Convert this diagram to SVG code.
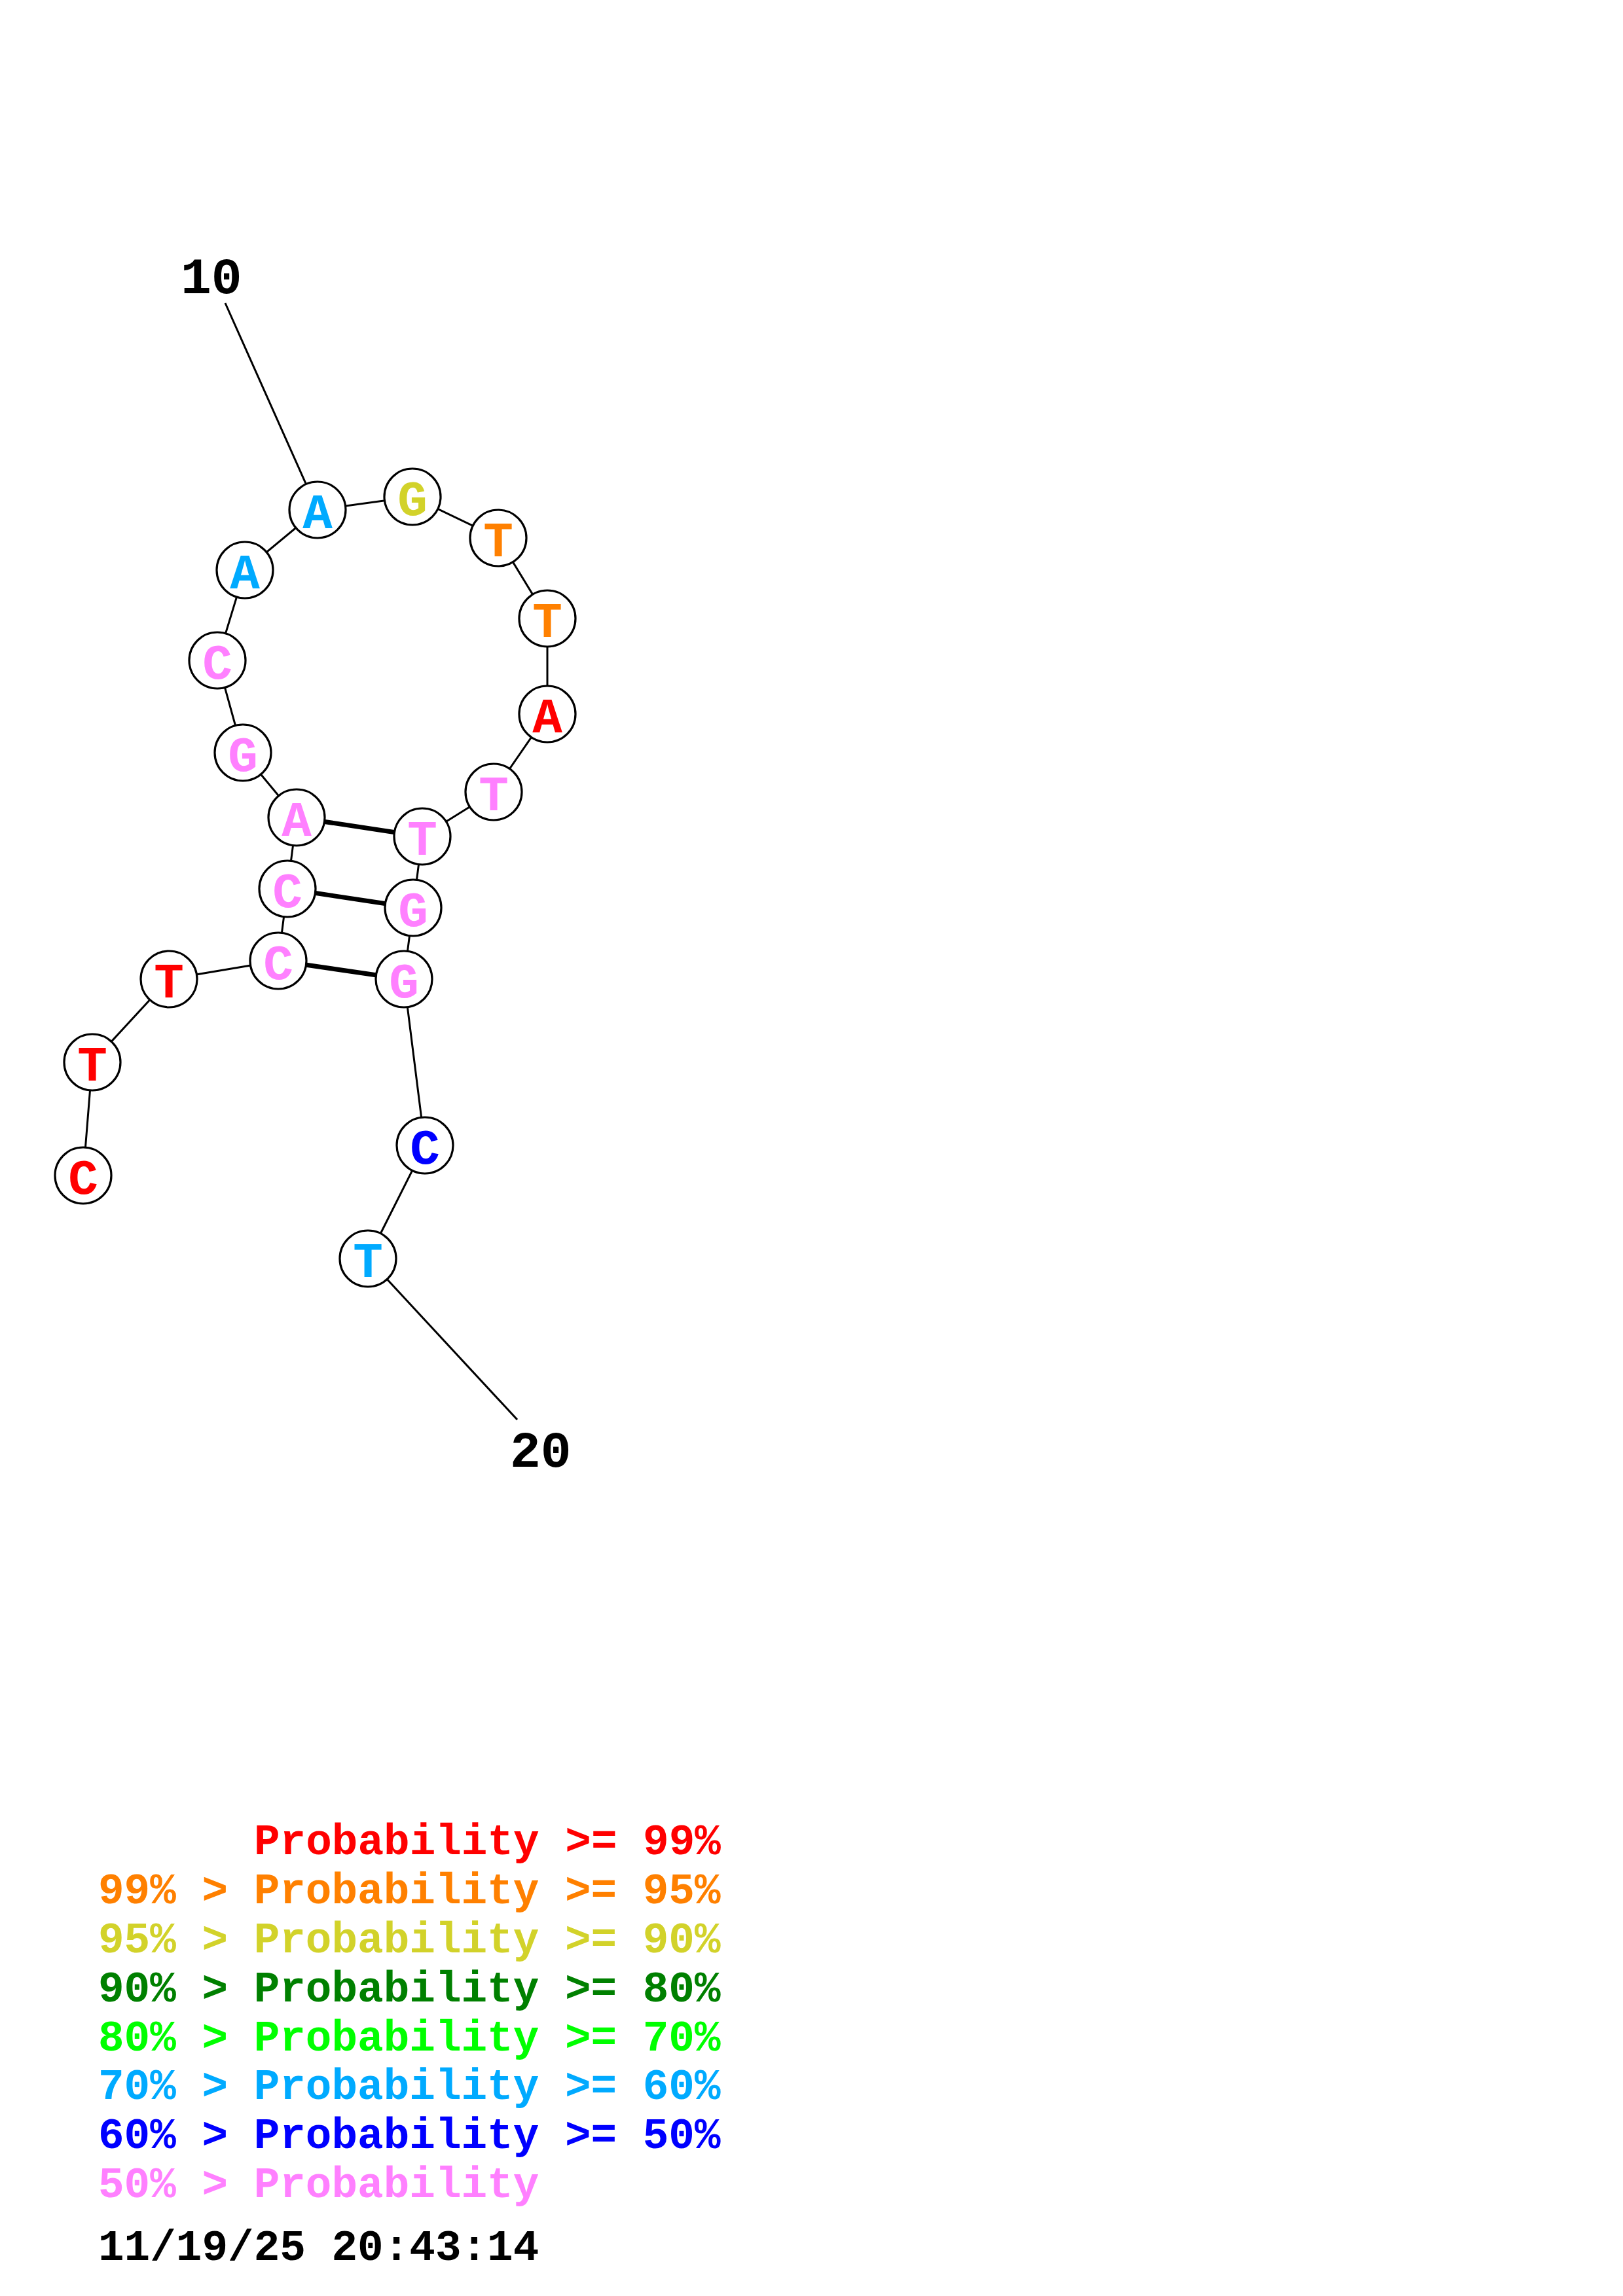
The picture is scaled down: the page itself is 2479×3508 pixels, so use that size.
<svg xmlns="http://www.w3.org/2000/svg" width="2479" height="3508" viewBox="0 0 2479 3508">
<style>
.bb{stroke:#000;stroke-width:3;fill:none}
.pr{stroke:#000;stroke-width:7;fill:none}
.nc{fill:#fff;stroke:#000;stroke-width:3.2}
.nt{font-family:"Liberation Mono","DejaVu Sans Mono",monospace;font-weight:bold;font-size:76px;text-anchor:middle}
.lb{font-family:"Liberation Mono","DejaVu Sans Mono",monospace;font-weight:bold;font-size:78px;fill:#000}
.lg{font-family:"Liberation Mono","DejaVu Sans Mono",monospace;font-weight:bold;font-size:66px}
.red{fill:#FF0000}.org{fill:#FF8000}.yel{fill:#D2D22A}.dgr{fill:#008000}.grn{fill:#00FF00}.lbl{fill:#00AAFF}.blu{fill:#0000FF}.pnk{fill:#FF80FF}
</style>
<rect width="2479" height="3508" fill="#fff"/>
<g id="connectors">
<polyline class="bb" points="127,1796 141,1623 258,1496 425,1468 439,1358 453,1249 371,1150 332,1009 374,871 485,779 630,759 761,822 836,945 836,1091 754,1210 645,1278 631,1387 617,1496 649,1750 562,1923"/>
<line class="bb" x1="344" y1="463" x2="485" y2="779"/>
<line class="bb" x1="562" y1="1923" x2="790" y2="2169"/>
<line class="pr" x1="453" y1="1249" x2="645" y2="1278"/>
<line class="pr" x1="439" y1="1358" x2="631" y2="1387"/>
<line class="pr" x1="425" y1="1468" x2="617" y2="1496"/>
</g>
<g id="n1"><circle class="nc" cx="127" cy="1796" r="43"/><text class="nt red" x="127" y="1824">C</text></g>
<g id="n2"><circle class="nc" cx="141" cy="1623" r="43"/><text class="nt red" x="141" y="1651">T</text></g>
<g id="n3"><circle class="nc" cx="258" cy="1496" r="43"/><text class="nt red" x="258" y="1524">T</text></g>
<g id="n4"><circle class="nc" cx="425" cy="1468" r="43"/><text class="nt pnk" x="425" y="1496">C</text></g>
<g id="n5"><circle class="nc" cx="439" cy="1358" r="43"/><text class="nt pnk" x="439" y="1386">C</text></g>
<g id="n6"><circle class="nc" cx="453" cy="1249" r="43"/><text class="nt pnk" x="453" y="1277">A</text></g>
<g id="n7"><circle class="nc" cx="371" cy="1150" r="43"/><text class="nt pnk" x="371" y="1178">G</text></g>
<g id="n8"><circle class="nc" cx="332" cy="1009" r="43"/><text class="nt pnk" x="332" y="1037">C</text></g>
<g id="n9"><circle class="nc" cx="374" cy="871" r="43"/><text class="nt lbl" x="374" y="899">A</text></g>
<g id="n10"><circle class="nc" cx="485" cy="779" r="43"/><text class="nt lbl" x="485" y="807">A</text></g>
<g id="n11"><circle class="nc" cx="630" cy="759" r="43"/><text class="nt yel" x="630" y="787">G</text></g>
<g id="n12"><circle class="nc" cx="761" cy="822" r="43"/><text class="nt org" x="761" y="850">T</text></g>
<g id="n13"><circle class="nc" cx="836" cy="945" r="43"/><text class="nt org" x="836" y="973">T</text></g>
<g id="n14"><circle class="nc" cx="836" cy="1091" r="43"/><text class="nt red" x="836" y="1119">A</text></g>
<g id="n15"><circle class="nc" cx="754" cy="1210" r="43"/><text class="nt pnk" x="754" y="1238">T</text></g>
<g id="n16"><circle class="nc" cx="645" cy="1278" r="43"/><text class="nt pnk" x="645" y="1306">T</text></g>
<g id="n17"><circle class="nc" cx="631" cy="1387" r="43"/><text class="nt pnk" x="631" y="1415">G</text></g>
<g id="n18"><circle class="nc" cx="617" cy="1496" r="43"/><text class="nt pnk" x="617" y="1524">G</text></g>
<g id="n19"><circle class="nc" cx="649" cy="1750" r="43"/><text class="nt blu" x="649" y="1778">C</text></g>
<g id="n20"><circle class="nc" cx="562" cy="1923" r="43"/><text class="nt lbl" x="562" y="1951">T</text></g>
<g id="labels">
<text class="lb" x="276" y="448">10</text>
<text class="lb" x="779" y="2241">20</text>
</g>
<g id="legend">
<text class="lg red" x="388" y="2833">Probability &gt;= 99%</text>
<text class="lg org" x="150" y="2908">99% &gt; Probability &gt;= 95%</text>
<text class="lg yel" x="150" y="2983">95% &gt; Probability &gt;= 90%</text>
<text class="lg dgr" x="150" y="3058">90% &gt; Probability &gt;= 80%</text>
<text class="lg grn" x="150" y="3133">80% &gt; Probability &gt;= 70%</text>
<text class="lg lbl" x="150" y="3207">70% &gt; Probability &gt;= 60%</text>
<text class="lg blu" x="150" y="3282">60% &gt; Probability &gt;= 50%</text>
<text class="lg pnk" x="150" y="3357">50% &gt; Probability</text>
<text class="lg" x="150" y="3453" fill="#000">11/19/25 20:43:14</text>
</g>
</svg>
